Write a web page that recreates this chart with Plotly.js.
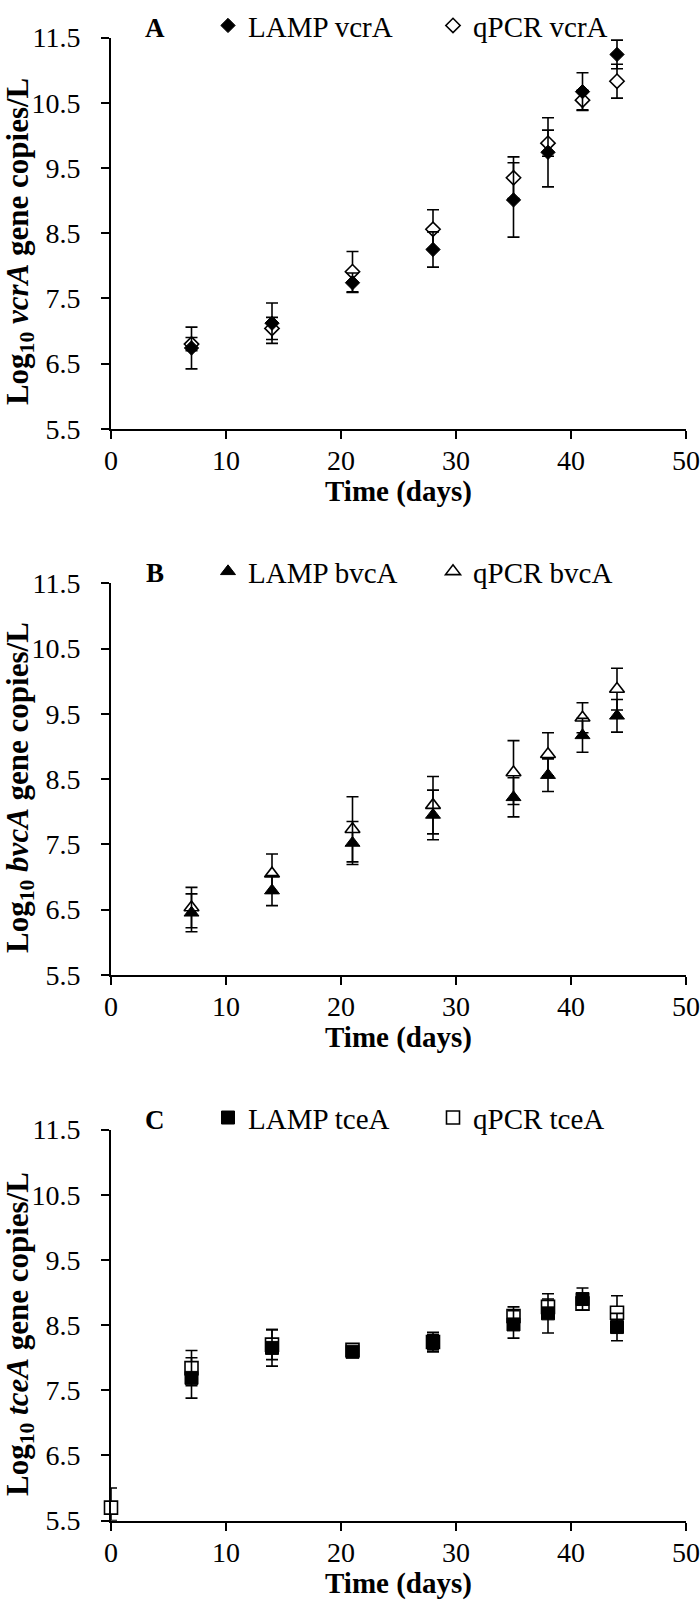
<!DOCTYPE html>
<html>
<head>
<meta charset="utf-8">
<script src="https://cdn.plot.ly/plotly-3.0.1.min.js"></script>
<style>html,body{margin:0;padding:0;background:#fff;}#chart{width:700px;height:1604px;}</style>
</head>
<body>
<div id="chart"></div>
<script>
// ---- data ----
const days = [7, 14, 21, 28, 35, 38, 41, 44];
const daysTce = [0, 7, 14, 21, 28, 35, 38, 41, 44];

const vcrA_LAMP = [6.74, 7.12, 7.74, 8.25, 9.01, 9.74, 10.67, 11.24];
const vcrA_LAMP_err = [0.32, 0.31, 0.15, 0.27, 0.57, 0.53, 0.29, 0.22];
const vcrA_qPCR = [6.80, 7.04, 7.91, 8.56, 9.35, 9.88, 10.54, 10.83];
const vcrA_qPCR_err = [0.10, 0.17, 0.31, 0.30, 0.32, 0.20, 0.15, 0.26];

const bvcA_LAMP = [6.45, 6.79, 7.52, 7.95, 8.22, 8.56, 9.17, 9.47];
const bvcA_LAMP_err = [0.29, 0.23, 0.33, 0.38, 0.30, 0.25, 0.26, 0.25];
const bvcA_qPCR = [6.53, 7.05, 7.73, 8.10, 8.60, 8.88, 9.44, 9.88];
const bvcA_qPCR_err = [0.31, 0.30, 0.50, 0.44, 0.49, 0.33, 0.23, 0.32];

const tceA_LAMP = [7.69, 8.15, 8.09, 8.24, 8.51, 8.68, 8.90, 8.47];
const tceA_LAMP_err = [0.31, 0.28, 0.05, 0.15, 0.21, 0.30, 0.17, 0.21];
const tceA_qPCR = [5.70, 7.84, 8.20, 8.12, 8.24, 8.64, 8.78, 8.83, 8.69];
const tceA_qPCR_errPlus = [0.30, 0.27, 0.23, 0.05, 0.12, 0.14, 0.12, 0.10, 0.26];
const tceA_qPCR_errMinus = [0.20, 0.27, 0.23, 0.05, 0.12, 0.14, 0.12, 0.10, 0.26];

const xTicks = [0, 10, 20, 30, 40, 50];
const yTicks = [5.5, 6.5, 7.5, 8.5, 9.5, 10.5, 11.5];

const panelLetters = ['A', 'B', 'C'];
const genes = ['vcrA', 'bvcA', 'tceA'];
const xTitle = 'Time (days)';

// ---- styling ----
const FONT = '"Liberation Serif", "Times New Roman", serif';
const W = 700, H = 1604;
const px = v => v / W;
const py = v => 1 - v / H;

const panelTop = [25.7, 575.7, 1126];
const panelBot = [420, 970, 1520];
const symbols = ['diamond', 'triangle-up', 'square'];
const sizes = [11, 13, 13];

function errObj(plus, minus) {
  const e = {type: 'data', array: plus, visible: true, color: 'black', thickness: 1.6, width: 6};
  if (minus) { e.symmetric = false; e.arrayminus = minus; }
  return e;
}

function trace(name, x, y, plus, minus, k, filled, rank) {
  const sfx = k === 0 ? '' : String(k + 1);
  return {
    type: 'scatter', mode: 'markers', name: name, x: x, y: y,
    xaxis: 'x' + sfx, yaxis: 'y' + sfx,
    legend: 'legend' + sfx, legendrank: rank,
    cliponaxis: false,
    marker: filled
      ? {symbol: symbols[k], size: sizes[k], color: 'black', line: {color: 'black', width: 1}}
      : {symbol: symbols[k], size: sizes[k], color: 'white', line: {color: 'black', width: 1.6}},
    error_y: errObj(plus, minus),
    hoverinfo: 'x+y+name'
  };
}

const data = [
  trace('qPCR ' + genes[0], days, vcrA_qPCR, vcrA_qPCR_err, null, 0, false, 2),
  trace('LAMP ' + genes[0], days, vcrA_LAMP, vcrA_LAMP_err, null, 0, true, 1),
  trace('qPCR ' + genes[1], days, bvcA_qPCR, bvcA_qPCR_err, null, 1, false, 2),
  trace('LAMP ' + genes[1], days, bvcA_LAMP, bvcA_LAMP_err, null, 1, true, 1),
  trace('qPCR ' + genes[2], daysTce, tceA_qPCR, tceA_qPCR_errPlus, tceA_qPCR_errMinus, 2, false, 2),
  trace('LAMP ' + genes[2], days, tceA_LAMP, tceA_LAMP_err, null, 2, true, 1)
];

const layout = {
  width: W, height: H,
  margin: {l: 0, r: 0, t: 0, b: 0},
  paper_bgcolor: 'white', plot_bgcolor: 'white',
  font: {family: FONT, color: 'black', size: 28},
  showlegend: true,
  annotations: []
};

for (let k = 0; k < 3; k++) {
  const sfx = k === 0 ? '' : String(k + 1);
  layout['xaxis' + sfx] = {
    domain: [px(111), px(686)], anchor: 'y' + sfx,
    range: [0, 50], tickvals: xTicks, ticks: 'outside', ticklen: 8, tickwidth: 2,
    tickcolor: 'black', showline: true, linecolor: 'black', linewidth: 2,
    showgrid: false, zeroline: false, ticklabelstandoff: -2,
    tickfont: {family: FONT, size: 28, color: 'black'}, fixedrange: true
  };
  layout['yaxis' + sfx] = {
    domain: [py(panelBot[k]), py(panelTop[k])], anchor: 'x' + sfx,
    range: [5.5, 11.5], tickvals: yTicks, tickformat: '.1f', ticks: 'outside', ticklen: 8, tickwidth: 2,
    tickcolor: 'black', showline: true, linecolor: 'black', linewidth: 2,
    showgrid: false, zeroline: false, ticklabelstandoff: 15,
    tickfont: {family: FONT, size: 28, color: 'black'}, fixedrange: true
  };
  layout['legend' + sfx] = {
    orientation: 'h', x: px(208), xanchor: 'left', y: py(panelTop[k] - 12), yanchor: 'middle',
    bgcolor: 'rgba(0,0,0,0)', borderwidth: 0,
    font: {family: FONT, size: 29, color: 'black'},
    entrywidth: 180, entrywidthmode: 'pixels', itemclick: false, itemdoubleclick: false
  };
  layout.annotations.push({
    text: '<b>' + panelLetters[k] + '</b>', xref: 'paper', yref: 'paper',
    x: px(155), y: py(panelTop[k] - 10), xanchor: 'center', yanchor: 'middle', showarrow: false,
    font: {family: FONT, size: 27, color: 'black'}
  });
  layout.annotations.push({
    text: '<b>' + xTitle + '</b>', xref: 'paper', yref: 'paper',
    x: px(398.5), y: py(panelBot[k] + 63), xanchor: 'center', yanchor: 'middle', showarrow: false,
    font: {family: FONT, size: 29, color: 'black'}
  });
  layout.annotations.push({
    text: '<b>Log<sub>10</sub> <i>' + genes[k] + '</i> gene copies/L</b>', xref: 'paper', yref: 'paper',
    x: px(20), y: py((panelTop[k] + panelBot[k]) / 2 + 9), xanchor: 'center', yanchor: 'middle',
    textangle: -90, showarrow: false,
    font: {family: FONT, size: 31, color: 'black'}
  });
}

Plotly.newPlot('chart', data, layout, {staticPlot: true, displayModeBar: false});
</script>
</body>
</html>
